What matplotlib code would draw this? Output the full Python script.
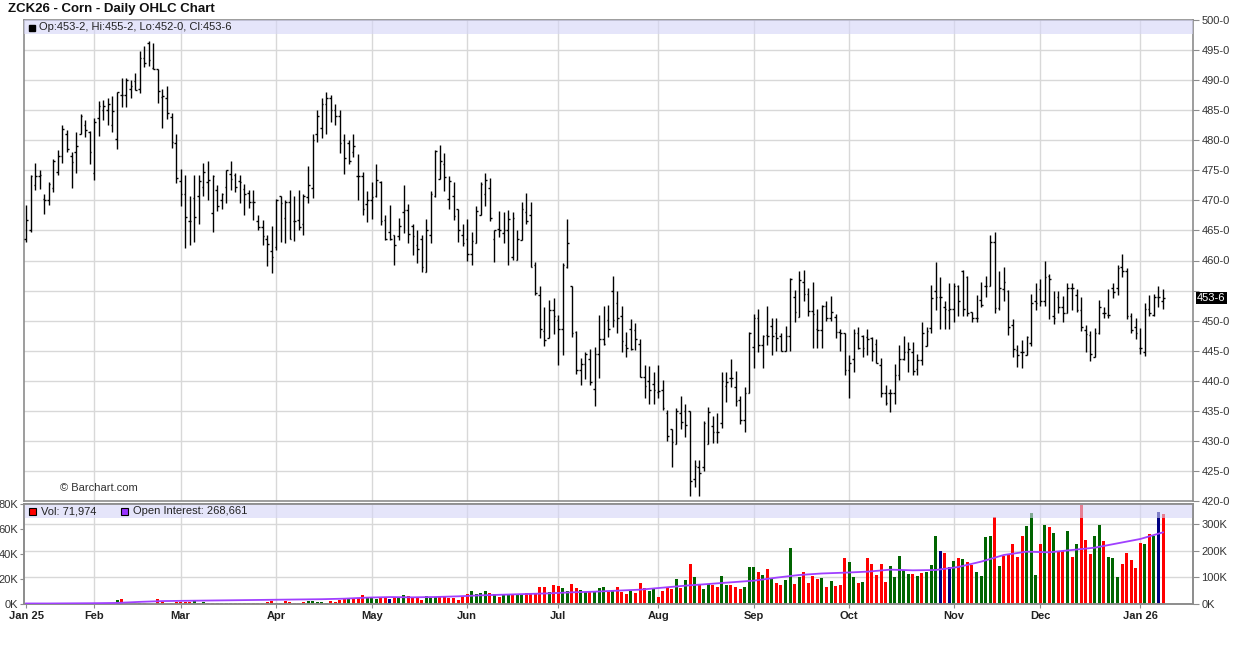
import matplotlib
matplotlib.use("Agg")
import matplotlib.pyplot as plt
import matplotlib.transforms as mtrans
from matplotlib.collections import LineCollection
from matplotlib.patches import Rectangle
import numpy as np

plt.rcParams['font.family'] = ['Liberation Sans', 'DejaVu Sans']

# ---------------- data ----------------
opens = [463.5,465.0,472.5,474.0,470.3,470.0,472.0,474.8,477.3,481.0,477.3,478.0,481.1,482.6,481.3,474.6,483.7,485.0,485.1,482.6,
         480.2,487.5,487.6,488.5,489.8,488.5,493.6,496.2,492.0,491.8,487.2,487.1,483.9,479.6,473.2,471.1,466.5,470.4,470.7,472.3,
         473.0,467.9,471.7,470.0,472.3,474.4,474.2,473.2,471.9,471.2,469.7,466.5,465.5,463.5,461.5,462.3,470.7,467.0,469.8,466.5,
         466.8,466.0,470.5,472.0,481.0,482.0,486.0,487.0,485.0,484.0,480.0,479.5,478.0,474.0,474.0,469.4,470.0,470.8,473.0,466.7,
         464.7,464.2,464.0,468.0,468.4,465.8,462.6,463.6,458.1,464.2,470.7,473.6,476.0,470.2,470.7,468.6,464.2,463.5,461.0,462.9,
         467.6,471.1,472.0,463.5,465.2,464.6,465.0,460.5,460.1,463.4,468.1,467.5,459.3,454.2,448.3,447.1,451.7,450.1,448.6,459.0,
         455.8,448.1,441.8,442.8,443.6,438.6,444.4,446.9,450.1,455.0,452.9,450.8,446.0,448.6,448.4,446.1,440.6,439.9,439.5,438.1,
         438.5,434.7,431.9,429.4,434.6,435.0,435.0,423.6,425.6,425.6,429.4,432.5,431.4,432.9,439.2,440.4,439.0,436.8,433.5,437.9,
         445.6,450.4,446.0,447.6,449.1,447.9,447.5,445.0,447.5,453.9,450.6,456.4,454.4,451.6,448.6,448.4,452.4,450.4,450.6,448.1,
         447.9,441.8,443.6,447.9,447.5,447.2,447.1,446.1,442.7,437.9,437.9,438.0,441.0,443.7,444.8,444.8,441.9,443.4,445.8,448.8,
         455.0,453.9,452.2,451.8,452.0,455.7,458.3,457.3,451.4,450.4,453.4,455.8,455.8,463.1,452.1,455.3,455.0,449.3,445.1,444.8,
         444.3,446.2,453.3,455.2,453.2,457.4,450.7,453.9,452.2,451.3,455.4,454.3,451.8,448.4,447.6,444.0,448.0,451.2,450.9,455.4,
         455.5,459.0,458.2,450.7,449.0,445.4,444.8,451.9,450.9,454.0,453.25]
highs = [469.3,474.2,476.2,475.1,471.1,473.1,476.8,478.3,482.6,481.7,478.0,481.3,484.3,483.4,481.6,483.7,486.6,486.7,487.0,487.4,
         488.1,490.3,490.3,490.0,491.2,494.8,495.7,496.5,496.1,491.8,488.6,489.0,484.6,481.1,475.2,474.3,470.7,474.3,474.3,476.2,
         476.6,474.2,472.5,471.2,475.1,476.6,474.6,474.2,472.8,471.8,471.7,467.5,466.7,464.3,465.7,470.2,470.8,470.1,471.8,470.8,
         471.8,471.0,475.7,481.0,485.0,487.0,488.0,487.5,486.0,485.0,481.1,480.0,481.0,477.7,474.7,471.5,473.0,476.1,473.2,467.5,
         469.2,464.2,467.1,472.5,469.4,466.1,465.0,464.2,466.9,471.5,478.3,479.2,477.8,474.0,473.1,468.6,466.1,466.9,464.7,469.0,
         473.1,474.6,473.7,465.1,468.2,468.1,468.4,468.1,465.1,469.7,471.2,469.7,459.8,455.7,452.3,453.4,453.8,450.9,459.6,466.9,
         455.8,448.2,443.8,444.7,445.3,445.6,450.9,452.5,452.6,457.5,454.9,452.5,448.1,450.2,449.6,446.9,442.6,442.4,441.4,442.6,
         440.1,435.1,431.9,435.4,437.5,436.1,435.0,426.9,426.9,433.3,435.6,434.2,434.7,441.5,441.5,443.6,441.7,437.5,438.9,448.1,
         451.1,451.9,447.6,452.5,450.4,450.4,447.9,449.1,457.1,455.1,458.3,458.5,455.4,456.4,451.9,452.6,453.3,454.1,451.1,448.6,
         447.9,444.3,448.6,448.9,447.6,448.6,447.3,446.9,443.8,439.3,438.7,442.8,445.9,447.4,446.5,446.4,444.4,449.7,449.0,455.9,
         459.8,457.3,453.3,456.2,456.3,456.0,458.4,457.4,451.5,454.3,456.5,457.4,464.2,464.7,458.3,459.0,455.1,450.2,445.9,446.8,
         447.4,454.4,456.3,456.9,459.9,457.8,454.9,454.9,454.1,456.3,456.2,455.2,454.0,449.3,448.2,448.7,453.4,452.2,455.2,456.3,
         459.3,461.1,458.7,451.2,450.4,448.7,452.9,454.3,454.4,455.8,455.25]
lows = [463.1,464.7,471.7,471.9,467.7,469.2,471.4,474.2,476.2,478.0,472.0,474.6,481.1,480.5,476.0,473.4,480.7,483.4,482.5,481.4,
        478.6,485.6,485.6,487.0,488.3,487.9,492.2,492.4,491.8,486.2,482.0,483.6,478.7,472.9,469.0,462.0,462.6,463.0,466.1,470.7,
        470.1,464.7,468.2,468.6,469.6,471.7,471.4,469.5,467.6,468.7,466.7,465.0,462.6,459.1,457.9,461.8,463.0,462.9,463.6,463.2,
        465.1,464.3,469.6,470.4,479.7,480.4,481.0,483.0,482.5,477.9,474.4,476.1,477.2,470.0,467.6,466.4,466.9,470.6,465.9,463.4,
        463.4,459.3,463.4,464.6,462.9,460.9,459.6,458.1,458.1,462.9,470.6,473.6,471.6,468.5,466.7,463.1,462.4,460.0,459.3,462.9,
        467.6,469.1,466.5,459.7,463.9,462.9,459.3,460.1,460.1,463.4,466.1,458.9,454.2,447.1,445.7,447.1,447.8,442.6,444.3,458.7,
        447.2,441.1,439.3,440.3,439.3,435.8,440.4,446.0,447.3,449.0,447.9,444.8,443.9,445.1,445.1,440.6,437.1,436.1,436.1,437.1,
        435.1,430.0,425.6,429.4,431.9,430.6,420.8,422.4,420.8,425.0,429.4,429.6,429.6,432.1,436.4,438.9,435.8,432.8,431.4,437.9,
        442.1,444.7,442.1,446.0,444.3,445.0,445.0,445.0,445.0,449.8,450.6,453.3,450.8,445.4,445.4,445.4,449.9,450.0,447.1,445.0,
        440.9,437.1,441.5,445.3,443.9,444.3,443.3,442.9,437.3,436.0,434.8,436.2,440.2,443.4,441.5,440.9,440.9,442.7,445.8,447.9,
        451.8,448.6,448.6,448.6,449.7,450.7,450.8,450.7,449.8,449.8,452.3,453.9,455.8,451.3,451.8,453.3,447.6,443.9,442.3,442.2,
        444.3,445.7,451.8,452.4,452.4,450.3,449.4,451.2,449.8,451.2,451.8,451.5,448.3,444.8,443.3,444.0,447.8,450.4,450.4,453.7,
        454.3,457.2,450.2,447.9,446.9,444.4,444.1,450.7,450.8,452.2,452.0]
closes = [466.7,474.0,474.0,474.2,470.1,472.8,476.5,477.3,481.8,478.6,476.4,479.1,484.0,481.7,478.0,483.0,485.7,485.7,486.0,484.9,
          488.0,487.6,490.0,489.0,488.4,493.7,492.9,493.3,491.9,488.2,487.3,484.6,479.7,473.7,471.0,467.2,466.5,467.3,473.2,474.8,
          473.4,474.0,469.0,471.0,475.0,473.5,472.3,473.0,471.1,469.8,469.7,465.5,464.0,462.8,460.5,470.0,469.6,469.8,463.6,466.5,
          465.5,470.8,472.6,480.0,484.0,486.0,487.0,485.0,484.0,479.6,477.1,476.5,479.0,474.0,468.6,470.0,470.6,473.4,466.6,463.6,
          463.6,462.6,465.7,468.4,464.4,464.0,461.9,458.9,465.0,471.1,478.2,476.6,473.9,473.2,467.4,465.0,462.9,461.0,463.2,468.2,
          472.7,473.4,467.0,465.0,465.1,465.1,466.9,467.0,463.5,468.6,466.6,459.0,454.6,448.6,446.8,451.8,450.8,448.6,459.2,462.9,
          448.0,441.8,442.8,444.4,439.8,444.4,446.9,446.1,448.6,450.1,450.4,446.6,445.4,445.3,446.9,440.7,439.2,438.5,438.5,438.3,
          435.4,430.8,429.8,435.0,433.1,432.6,423.4,425.8,424.6,432.9,434.8,431.4,431.4,440.0,439.8,440.4,436.6,433.5,438.0,447.9,
          450.4,446.0,447.5,447.4,447.4,447.1,445.0,447.5,456.9,451.5,456.8,454.4,451.6,451.1,448.4,452.4,450.4,451.4,448.1,447.9,
          441.8,442.9,447.9,445.4,445.4,446.9,445.0,442.9,437.9,436.3,437.9,441.0,443.7,444.8,445.3,441.7,443.4,448.0,448.3,453.7,
          454.0,454.0,451.9,451.9,455.7,453.3,451.9,451.3,450.4,450.4,452.6,455.8,463.1,452.1,455.4,456.5,448.9,445.2,444.3,444.8,
          447.3,452.9,453.0,453.2,457.2,456.9,450.4,452.2,451.3,455.4,455.4,451.8,448.9,447.8,444.4,447.9,452.2,451.3,451.0,454.7,
          458.8,458.2,450.7,448.4,448.0,445.4,451.9,451.3,453.9,453.9,453.75]

# volume in thousands of contracts
volume_k = [0.0,0.8,0,0,0,0,0,0.6,0.6,0,0,0,0,0,0.6,0,0.6,0,0,0,
            3.2,4.0,0,0,0,0.6,0.6,0,0,4.0,1.9,0,0.8,1.5,1.5,2.0,2.0,2.7,0.8,1.5,
            0.8,0.8,0.8,0.8,0.8,0.8,0.8,0.8,0.8,0.8,0.8,0.8,0.8,1.5,2.5,0.8,0.8,2.5,1.6,1.0,
            1.2,1.5,2.5,2.5,1.7,1.7,0.8,2.5,1.8,3.5,4.3,4.5,5.0,4.5,7.5,5.0,5.0,4.0,5.0,5.5,
            4.0,5.5,5.5,7.2,6.4,5.0,5.0,3.0,6.4,5.0,5.6,6.4,5.3,4.8,4.8,3.2,5.9,8.0,10.4,8.0,
            8.5,10.4,8.5,8.0,5.7,7.2,8.0,8.0,7.2,7.2,9.0,9.0,9.0,13.6,13.6,9.6,15.0,14.4,12.8,10.4,
            16.0,12.8,11.2,9.6,10.4,10.4,12.8,13.6,9.6,11.0,13.6,10.0,8.0,10.4,9.0,17.0,12.8,10.4,13.0,5.6,
            10.4,14.0,12.0,20.0,12.8,19.0,32.0,21.6,15.0,12.0,16.0,15.0,14.0,22.7,15.0,15.0,14.0,12.0,14.0,29.6,
            29.6,25.6,23.0,28.0,20.8,17.0,15.5,19.0,45.0,16.0,22.0,25.6,17.0,22.4,20.0,20.5,13.6,18.7,14.4,15.2,
            37.0,33.9,21.6,17.0,17.9,37.0,31.7,23.2,31.7,17.9,30.7,21.9,38.4,27.2,24.0,24.0,22.7,25.0,25.9,31.2,
            54.4,42.4,40.8,29.9,34.4,36.8,36.0,33.6,31.2,25.6,22.4,53.6,54.4,69.6,30.7,38.1,40.0,48.0,37.6,54.4,
            62.4,72.5,23.2,48.0,63.2,61.6,56.8,42.4,42.4,58.4,37.6,48.0,79.0,51.2,40.0,54.4,63.2,50.4,37.6,36.8,
            21.6,32.0,40.8,35.2,28.8,48.8,48.0,56.0,54.4,73.6,71.974]
# bar colour code per session, 10 sessions per chunk (g = up, r = down, n = unchanged)
vol_dir = list("gggggggggg" "ggggrggggg" "grggggrggr" "rrrrrrrggg" "rrggggrrrr"
               "rrrrrggrrr" "rrgggggrrr" "rgrrrgggrr" "nrggrrrrgg" "grrrrrrrgg"
               "ggrgrggrgg" "rrrrrgrrgg" "rrggrgggrg" "rrrgrrrggr" "rrrgrgrgrg"
               "grrggrrrgg" "grgrgrrggr" "grrrrgrgrr" "rggrgrrrrr" "gggggrgrgg"
               "gnrngrgrrg" "gggrgrrrrr" "gggrgrgrrg" "rgrrrggrgg" "grrrrrgrgn"
               "r")
month_idx = [0, 15, 34, 55, 76, 97, 117, 139, 160, 181, 204, 223, 245]
month_lbl = ["Jan 25", "Feb", "Mar", "Apr", "May", "Jun", "Jul", "Aug", "Sep", "Oct", "Nov", "Dec", "Jan 26"]
oi_idx = list(range(0, 251, 5))
oi_k = [2, 2, 2.5, 3, 4, 8, 11, 12, 13, 14, 15, 16, 17, 18, 20, 24, 26, 25, 26.3, 28.8,
        32.5, 35, 37.5, 40, 43.8, 46.3, 50, 53.8, 61.3, 68.8, 75, 81.3, 87.5, 98.8, 108.8, 114.5,
        117.5, 121.3, 128.8, 126.3, 127.5, 138.8, 158.8, 183.8, 196.3, 193.8, 202.5, 211.3, 227.5, 243.8, 268.661]

n = len(closes)

# ---------------- figure ----------------
W, H = 1236, 645
fig = plt.figure(figsize=(W / 100, H / 100), dpi=100)
fig.patch.set_facecolor("white")


def rect(x0, y0, x1, y1):
    return [x0 / W, 1 - y1 / H, (x1 - x0) / W, (y1 - y0) / H]


grid_c = "#d8d8d8"
frame_c = "#8c8c8c"
band_c = (213 / 255, 213 / 255, 247 / 255)
xl = (-0.45, (1193 - 26) / 4.548)

axp = fig.add_axes(rect(24, 20, 1193, 501))
axv = fig.add_axes(rect(24, 504, 1193, 604))

for ax in (axp, axv):
    ax.set_xlim(*xl)
    for s in ax.spines.values():
        s.set_color(frame_c)
        s.set_linewidth(1.2)
    for m in month_idx[1:]:
        ax.axvline(m, color=grid_c, lw=1.0, zorder=0)

# price panel
axp.set_ylim(420, 500)
for p in range(425, 500, 5):
    axp.axhline(p, color=grid_c, lw=1.0, zorder=0)
x = np.arange(n)
segs = []
tk = 0.36
for i in range(n):
    segs.append([(x[i], lows[i]), (x[i], highs[i])])
    segs.append([(x[i] - tk, opens[i]), (x[i], opens[i])])
    segs.append([(x[i], closes[i]), (x[i] + tk, closes[i])])
axp.add_collection(LineCollection(segs, colors="black", linewidths=1.0, zorder=3))
axp.set_xticks([])
axp.yaxis.tick_right()
pticks = np.arange(420, 501, 5)
axp.set_yticks(pticks)


def fmt_price(v):
    w = int(np.floor(v + 1e-9))
    e = int(round((v - w) * 8))
    return f"{w}-{e}"


# the 455 label is hidden behind the last-price marker in the original
axp.set_yticklabels(["" if abs(v - closes[-1]) < 2.5 else fmt_price(v) for v in pticks])
axp.tick_params(axis="y", labelsize=8, labelcolor="#333333", color=frame_c, length=4, pad=2)
axp.add_patch(Rectangle((0, 1 - 14 / 481), 1, 14 / 481, transform=axp.transAxes,
                        facecolor=band_c, alpha=0.6, edgecolor="none", zorder=4))
fig.patches.append(Rectangle((29 / W, 1 - 31 / H), 6 / W, 6 / H, transform=fig.transFigure,
                             facecolor="black", edgecolor="black", zorder=10))
fig.text(39 / W, 1 - 27.5 / H,
         f"Op:{fmt_price(opens[-1])}, Hi:{fmt_price(highs[-1])}, Lo:{fmt_price(lows[-1])}, Cl:{fmt_price(closes[-1])}",
         fontsize=8, color="#222222", va="center", ha="left")
axp.text(36 / 1169, (501 - 488) / 481, "\u00a9 Barchart.com", transform=axp.transAxes,
         fontsize=8, color="#333333", va="center", ha="left")
bt = mtrans.blended_transform_factory(axp.transAxes, axp.transData)
axp.text(1 + 4 / 1169, closes[-1], fmt_price(closes[-1]), transform=bt, fontsize=8, color="white",
         va="center", ha="left", bbox=dict(boxstyle="square,pad=0.12", facecolor="black", edgecolor="none"),
         zorder=10, clip_on=False)

# volume panel
axv.set_ylim(0, 80000)
colmap = {"g": "#006400", "r": "#ff0000", "n": "#000080"}
vols = np.array(volume_k) * 1000
axv.bar(x, vols, width=0.66, color=[colmap[c] for c in vol_dir], zorder=2)
axv.set_yticks([0, 20000, 40000, 60000, 80000])
axv.set_yticklabels(["0K", "20K", "40K", "60K", "80K"])
axv.tick_params(axis="y", labelsize=8, labelcolor="#333333", color=frame_c, length=3, pad=1)
axv.set_xticks(month_idx)
axv.set_xticklabels(month_lbl, fontweight="bold")
axv.tick_params(axis="x", labelsize=8, labelcolor="#222222", color=frame_c, length=3, pad=2)

axo = axv.twinx()
axo.set_ylim(0, 375000)
axo.set_xlim(*xl)
for v in (100000, 200000, 300000):
    axv.axhline(v * 80000 / 375000, color=grid_c, lw=1.0, zorder=0)
axo.plot(oi_idx, np.array(oi_k) * 1000, color="#a040ff", lw=1.3, zorder=3)
axo.set_yticks([0, 100000, 200000, 300000])
axo.set_yticklabels(["0K", "100K", "200K", "300K"])
axo.tick_params(axis="y", labelsize=8, labelcolor="#333333", color=frame_c, length=4, pad=2)
for s in axo.spines.values():
    s.set_color(frame_c)
    s.set_linewidth(1.2)
axo.add_patch(Rectangle((0, 1 - 14 / 100), 1, 14 / 100, transform=axo.transAxes,
                        facecolor=band_c, alpha=0.6, edgecolor="none", zorder=1))
axv.set_zorder(1)
axo.set_zorder(2)
axo.patch.set_visible(False)
fig.patches.append(Rectangle((29 / W, 1 - 515 / H), 7 / W, 7 / H, transform=fig.transFigure,
                             facecolor="#ff0000", edgecolor="black", lw=0.8, zorder=10))
fig.text(41 / W, 1 - 511.5 / H, f"Vol: {volume_k[-1] * 1000:,.0f}", fontsize=8, color="#222222",
         va="center", ha="left", zorder=11)
fig.patches.append(Rectangle((121 / W, 1 - 515 / H), 7 / W, 7 / H, transform=fig.transFigure,
                             facecolor="#9933ff", edgecolor="black", lw=0.8, zorder=10))
fig.text(133 / W, 1 - 511.5 / H, f"Open Interest: {oi_k[-1] * 1000:,.0f}", fontsize=8, color="#222222",
         va="center", ha="left", zorder=11)

fig.text(8 / W, 1 - 9 / H, "ZCK26 - Corn - Daily OHLC Chart", fontsize=9.5, fontweight="bold",
         color="#111111", va="center", ha="left")

fig.savefig("out.png", dpi=100, facecolor="white")
